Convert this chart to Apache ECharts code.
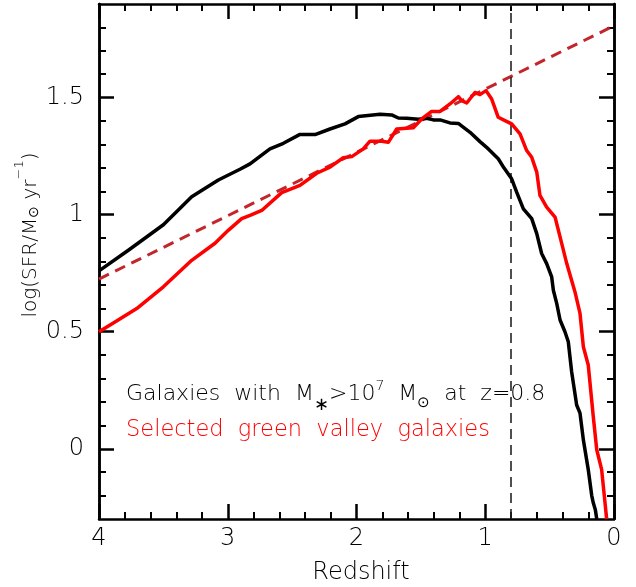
<!DOCTYPE html>
<html>
<head>
<meta charset="utf-8">
<script src="https://cdn.jsdelivr.net/npm/echarts@6/dist/echarts.min.js"></script>
<style>
  html, body { margin: 0; padding: 0; background: #fff; }
  #chart { width: 636px; height: 587px; }
</style>
</head>
<body>
<div id="chart"></div>
<script>
// Mean star-formation history: all galaxies above 10^7 Msun at z=0.8 (black)
// and the selected green-valley sample (red).
const blackZ = [4.00, 3.772, 3.50, 3.28, 3.073, 2.905, 2.827, 2.724, 2.672, 2.568, 2.439, 2.322, 2.206, 2.089, 1.986, 1.817, 1.727, 1.675, 1.610, 1.520, 1.455, 1.403, 1.351, 1.274, 1.209, 1.118, 1.041, 0.976, 0.899, 0.855, 0.795, 0.756, 0.704, 0.639, 0.600, 0.562, 0.523, 0.484, 0.471, 0.445, 0.419, 0.381, 0.355, 0.329, 0.290, 0.264, 0.238, 0.200, 0.173, 0.161, 0.145, 0.134];
const blackSFR = [0.760, 0.848, 0.957, 1.077, 1.148, 1.194, 1.217, 1.260, 1.281, 1.305, 1.343, 1.342, 1.366, 1.388, 1.419, 1.429, 1.426, 1.413, 1.412, 1.408, 1.412, 1.405, 1.405, 1.392, 1.390, 1.352, 1.312, 1.281, 1.239, 1.200, 1.153, 1.096, 1.025, 0.983, 0.919, 0.834, 0.791, 0.734, 0.677, 0.621, 0.550, 0.500, 0.457, 0.329, 0.187, 0.152, 0.038, -0.089, -0.200, -0.231, -0.260, -0.300];

const redZ = [4.00, 3.876, 3.707, 3.50, 3.280, 3.099, 2.996, 2.892, 2.827, 2.736, 2.581, 2.439, 2.309, 2.206, 2.103, 2.037, 1.947, 1.895, 1.804, 1.753, 1.688, 1.610, 1.559, 1.494, 1.416, 1.351, 1.274, 1.209, 1.183, 1.144, 1.080, 1.041, 0.994, 0.950, 0.899, 0.847, 0.795, 0.730, 0.678, 0.639, 0.600, 0.575, 0.523, 0.458, 0.419, 0.367, 0.303, 0.264, 0.238, 0.200, 0.161, 0.134, 0.096, 0.057];
const redSFR = [0.500, 0.542, 0.599, 0.692, 0.805, 0.878, 0.933, 0.983, 0.997, 1.018, 1.094, 1.125, 1.177, 1.203, 1.243, 1.248, 1.281, 1.314, 1.314, 1.309, 1.366, 1.369, 1.371, 1.409, 1.441, 1.441, 1.473, 1.504, 1.487, 1.477, 1.522, 1.513, 1.530, 1.494, 1.416, 1.402, 1.388, 1.345, 1.274, 1.245, 1.182, 1.082, 1.032, 0.990, 0.905, 0.791, 0.670, 0.578, 0.436, 0.358, 0.138, -0.004, -0.089, -0.300];

// Linear main-sequence extrapolation (end points)
const trendZ = [4, 0];
const trendSFR = [0.725, 1.807];

// Selection epoch
const selectionZ = 0.8;

// Axis ticks and labels
const xRange = [0, 4];
const yRange = [-0.3, 1.9];
const yMajorTicks = [0, 0.5, 1, 1.5];
const yMajorLabels = ['0', '0.5', '1', '1.5'];
const yMinorTicks = [-0.2, -0.1, 0.1, 0.2, 0.3, 0.4, 0.6, 0.7, 0.8, 0.9, 1.1, 1.2, 1.3, 1.4, 1.6, 1.7, 1.8];

const FONT = "'DejaVu Sans', sans-serif";
const FW = 200;

const pairs = (xs, ys) => xs.map((x, i) => [x, ys[i]]);

const chart = echarts.init(document.getElementById('chart'), null, { renderer: 'canvas' });

const frameLine = { show: true, onZero: false, lineStyle: { color: '#000', width: 2.5 } };

function xAxisCfg(pos, labels) {
  return {
    type: 'value', position: pos, min: xRange[0], max: xRange[1], interval: 1, inverse: true,
    axisLine: frameLine,
    axisTick: { show: true, inside: true, length: 15, lineStyle: { color: '#000', width: 2.5 } },
    minorTick: { show: true, splitNumber: 5, length: 7, lineStyle: { color: '#000', width: 2 } },
    splitLine: { show: false }, minorSplitLine: { show: false },
    axisLabel: { show: labels, color: '#000', fontSize: 24, fontFamily: FONT, fontWeight: FW, margin: 8 }
  };
}

function yAxisCfg(pos, ticks, len, labels) {
  return {
    type: 'value', position: pos, min: yRange[0], max: yRange[1],
    axisLine: frameLine,
    axisTick: { show: true, inside: true, length: len, customValues: ticks, lineStyle: { color: '#000', width: len > 10 ? 2.5 : 2 } },
    splitLine: { show: false },
    axisLabel: labels ? {
      show: true, customValues: ticks, color: '#000', fontSize: 24, fontFamily: FONT, fontWeight: FW, margin: 15,
      formatter: v => yMajorLabels[yMajorTicks.indexOf(Math.round(v * 10) / 10)] ?? ''
    } : { show: false }
  };
}

const txt = (size, align, extra) => Object.assign(
  { fontSize: size, fontFamily: FONT, fontWeight: FW, verticalAlign: align }, extra || {});

// Rich-text runs: plain text is lifted with bottom padding so that
// subscripts (bottom-aligned, unpadded) sit below its baseline.
const annRich = {
  n: txt(22, 'bottom', { padding: [4, 0, 10, 0] }),
  sub: txt(18, 'bottom', { fontWeight: 'normal', padding: [0, 0, 1, 0] }),
  sup: txt(14, 'top'),
  o: txt(15, 'bottom', { padding: [0, 0, 4, 0] })
};

const yNameRich = {
  n: txt(20, 'bottom', { lineHeight: 28 }),
  o: txt(14, 'bottom', { lineHeight: 16 }),
  p: txt(13, 'top', { lineHeight: 28 })
};

chart.setOption({
  animation: false,
  backgroundColor: '#fff',
  grid: { left: 99, right: 22, top: 4, bottom: 68, containLabel: false },
  xAxis: [xAxisCfg('bottom', true), xAxisCfg('top', false)],
  yAxis: [
    yAxisCfg('left', yMajorTicks, 15, true),
    yAxisCfg('left', yMinorTicks, 7, false),
    yAxisCfg('right', yMajorTicks, 15, false),
    yAxisCfg('right', yMinorTicks, 7, false)
  ],
  series: [
    {
      type: 'line', name: 'trend', data: pairs(trendZ, trendSFR), showSymbol: false, silent: true,
      lineStyle: { color: '#c2262c', width: 3, type: [11, 7] }
    },
    {
      type: 'line', name: 'selection', data: [[selectionZ, yRange[0]], [selectionZ, yRange[1]]], showSymbol: false, silent: true,
      lineStyle: { color: '#222', width: 1.6, type: [10, 6] }
    },
    {
      type: 'line', name: 'all', data: pairs(blackZ, blackSFR), showSymbol: false, silent: true,
      lineStyle: { color: '#000', width: 3.5, join: 'round' }
    },
    {
      type: 'line', name: 'green valley', data: pairs(redZ, redSFR), showSymbol: false, silent: true,
      lineStyle: { color: '#ff0000', width: 3.5, join: 'round' }
    }
  ],
  graphic: [
    {
      type: 'text', x: 126, y: 379,
      style: {
        text: '{n|Galaxies  with  M}{sub|∗}{n|>10}{sup|7}{n|  M}{o|⊙}{n|  at  z=0.8}',
        fill: '#000', rich: annRich
      }
    },
    {
      type: 'text', x: 126, y: 419,
      style: {
        text: 'Selected  green  valley  galaxies',
        fill: '#ff0000', fontSize: 22.5, fontFamily: FONT, fontWeight: FW
      }
    },
    {
      type: 'text', x: 361, y: 573,
      style: {
        text: 'Redshift', fill: '#000', fontSize: 24, fontFamily: FONT, fontWeight: FW,
        align: 'center', verticalAlign: 'middle'
      }
    },
    {
      type: 'text', x: 27, y: 235, rotation: Math.PI / 2,
      style: {
        text: '{n|log(SFR/M}{o|⊙}{n| yr}{p|−1}{n|)}',
        fill: '#000', rich: yNameRich, align: 'center', verticalAlign: 'middle'
      }
    }
  ]
});
</script>
</body>
</html>
